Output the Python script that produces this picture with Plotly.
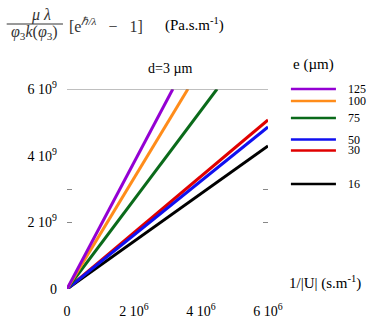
import plotly.graph_objects as go

# e (um) series: each line starts at the origin
thickness_um = [16, 30, 50, 75, 100, 125]
line_colors = ["#000000", "#E00000", "#1010F0", "#0A6A1A", "#FF8C1A", "#9400D3"]
x_start = [0, 0, 0, 0, 0, 0]
y_start = [0, 0, 0, 0, 0, 0]
x_end = [6.0e6, 6.0e6, 6.0e6, 4.48e6, 3.61e6, 3.16e6]
y_end = [4.29e9, 5.07e9, 4.86e9, 6.0e9, 6.0e9, 6.0e9]

x_tickvals = [0, 2e6, 4e6, 6e6]
x_ticktext = ["0", "2 10<sup>6</sup>", "4 10<sup>6</sup>", "6 10<sup>6</sup>"]
y_tickvals = [0, 2e9, 4e9, 6e9]
y_ticktext = ["0", "2 10<sup>9</sup>", "4 10<sup>9</sup>", "6 10<sup>9</sup>"]
# stray small tick marks seen on both sides of the frame
y_marks = [2e9, 3e9]

# legend order (top to bottom) and its vertical positions (paper units)
legend_order = [125, 100, 75, 50, 30, 16]
legend_y = [1.0, 0.94, 0.855, 0.747, 0.693, 0.525]

SERIF = "Liberation Serif"
NB = "\u00a0"


def note(x, y, text, size=14, color="#000", xanchor="center"):
    return dict(xref="paper", yref="paper", x=x, y=y, text=text,
                showarrow=False, xanchor=xanchor, yanchor="middle",
                font=dict(family=SERIF, size=size, color=color))


fig = go.Figure()

for i, e in enumerate(thickness_um):
    fig.add_trace(go.Scatter(
        x=[x_start[i], x_end[i]], y=[y_start[i], y_end[i]],
        mode="lines", line=dict(color=line_colors[i], width=3),
        name=f"{e}", showlegend=False, hoverinfo="skip"
    ))

# empty trace so that the overlay axis carrying the small tick marks is drawn
fig.add_trace(go.Scatter(x=[], y=[], yaxis="y2", showlegend=False,
                         hoverinfo="skip"))

shapes = []
annotations = []

# grey line at the top of the frame (6 10^9)
shapes.append(dict(type="line", xref="paper", yref="y", x0=0, x1=1,
                   y0=6e9, y1=6e9, line=dict(color="#808080", width=1)))

# custom legend
for e, yy in zip(legend_order, legend_y):
    c = line_colors[thickness_um.index(e)]
    shapes.append(dict(type="line", xref="paper", yref="paper",
                       x0=1.114, x1=1.338, y0=yy, y1=yy,
                       line=dict(color=c, width=2.5)))
    annotations.append(note(1.39, yy, str(e), size=12, xanchor="left"))
annotations.append(note(1.225, 1.12, "e (\u00b5m)", size=15))

# d=3 um label
annotations.append(note(0.51, 1.10, "d=3 \u00b5m", size=14))

# x axis title
annotations.append(note(1.284, 0.035, "1/|U| (s.m<sup>-1</sup>)", size=15))

# y axis title: fraction written as two lines with a bar
annotations.append(note(-0.13, 1.37, "<i>\u03bc" + NB + "\u03bb</i>",
                        size=16, color="#333"))
shapes.append(dict(type="line", xref="paper", yref="paper",
                   x0=-0.30, x1=-0.02, y0=1.325, y1=1.325,
                   line=dict(color="#333", width=1)))
annotations.append(note(-0.16, 1.28,
                        "<i>\u03c6</i><sub>3</sub><i>k</i>(<i>\u03c6</i><sub>3</sub>)",
                        size=16, color="#333"))
annotations.append(note(0.0, 1.322,
                        "[e<sup><i>\u210f/\u03bb</i></sup>" + NB * 3 + "\u2212"
                        + NB * 3 + "1]",
                        size=16, color="#333", xanchor="left"))
annotations.append(note(0.478, 1.322, "(Pa.s.m<sup>-1</sup>)", size=15,
                        xanchor="left"))

fig.update_layout(
    width=375, height=327,
    margin=dict(l=67, r=107, t=89, b=38),
    paper_bgcolor="white", plot_bgcolor="white",
    showlegend=False,
    shapes=shapes, annotations=annotations,
    xaxis=dict(range=[0, 6e6], tickvals=x_tickvals, ticktext=x_ticktext,
               showgrid=False, zeroline=False, showline=False, ticks="",
               ticklabelstandoff=12, automargin=False,
               tickfont=dict(family=SERIF, size=14, color="#000")),
    yaxis=dict(range=[0, 6e9], tickvals=y_tickvals, ticktext=y_ticktext,
               showgrid=False, zeroline=False, showline=False, ticks="",
               ticklabelstandoff=9, automargin=False,
               tickfont=dict(family=SERIF, size=14, color="#000")),
    yaxis2=dict(range=[0, 6e9], overlaying="y", tickvals=y_marks,
                showticklabels=False, showgrid=False, zeroline=False,
                showline=False, ticks="inside", ticklen=5, tickwidth=1,
                tickcolor="#888", mirror="ticks", automargin=False),
)

# the page body has a default 8px margin; drop it so the figure fills the window
fig.write_html("out.html", config={"displayModeBar": False},
               post_script="document.body.style.margin='0';")
